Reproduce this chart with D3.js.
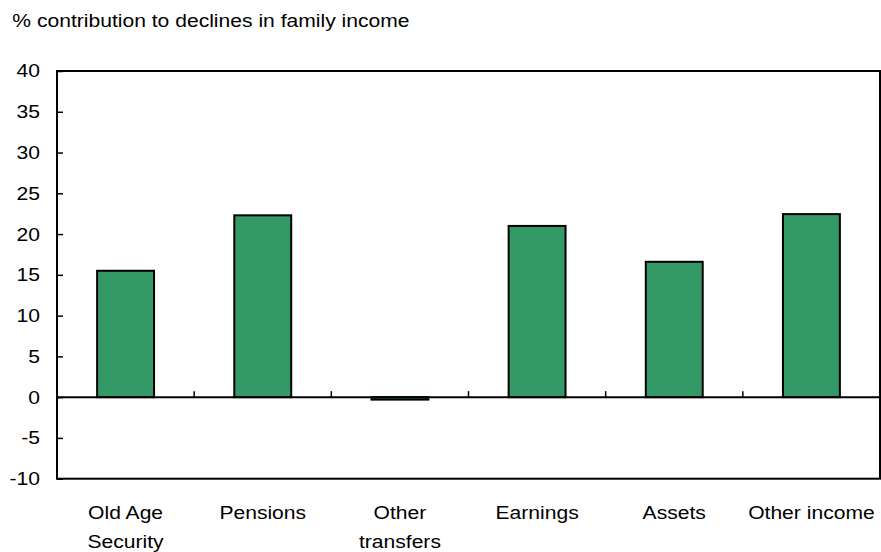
<!DOCTYPE html>
<html>
<head>
<meta charset="utf-8">
<script src="https://cdn.jsdelivr.net/npm/d3@7"></script>
<style>
  html, body { margin: 0; padding: 0; background: #fff; }
  svg { display: block; }
  text { font-family: "Liberation Sans", Arial, sans-serif; fill: #000; }
</style>
</head>
<body>
<svg id="chart" width="881" height="552"></svg>
<script>
// Contribution of each income source to declines in family income (%)
const categories = [
  ["Old Age", "Security"],
  ["Pensions"],
  ["Other", "transfers"],
  ["Earnings"],
  ["Assets"],
  ["Other income"]
];
const values = [15.5, 22.3, -0.3, 21.0, 16.6, 22.45];
const yTicks = [-10, -5, 0, 5, 10, 15, 20, 25, 30, 35, 40];
const yDomain = [-10, 40];
const titleText = "% contribution to declines in family income";

const fontSize = 18.5;
const stretch = 1.14;   // horizontal widening of all lettering

const svg = d3.select("#chart");
const plot = { left: 57, top: 71, right: 880, bottom: 478.7 };

const keys = categories.map((c, i) => i);
const x = d3.scaleBand()
  .domain(keys)
  .range([plot.left, plot.right])
  .paddingInner(0.585)
  .paddingOuter(0.2925);

const y = d3.scaleLinear().domain(yDomain).range([plot.bottom, plot.top]);

// Title
svg.append("text")
  .attr("transform", `translate(12.3,26.7) scale(${stretch},1)`)
  .style("font-size", fontSize + "px")
  .text(titleText);

// Bars
svg.append("g").selectAll("rect")
  .data(values)
  .join("rect")
  .attr("x", (d, i) => x(i))
  .attr("width", x.bandwidth())
  .attr("y", d => y(Math.max(0, d)))
  .attr("height", d => Math.abs(y(d) - y(0)))
  .attr("fill", "#339966")
  .attr("stroke", "#000")
  .attr("stroke-width", 2);

// Zero line
svg.append("line")
  .attr("x1", plot.left).attr("x2", plot.right)
  .attr("y1", y(0)).attr("y2", y(0))
  .attr("stroke", "#000").attr("stroke-width", 2);

// Category separators on the zero line
const step = x.step();
const seps = keys.slice(0, -1).map(i => x(i) + x.bandwidth() / 2 + step / 2);
svg.append("g").selectAll("line")
  .data(seps)
  .join("line")
  .attr("x1", d => d).attr("x2", d => d)
  .attr("y1", y(0)).attr("y2", y(0) - 6)
  .attr("stroke", "#000").attr("stroke-width", 1.5);

// Y axis: ticks pointing into the plot, plain hyphen for negatives
const yAxis = svg.append("g")
  .attr("transform", `translate(${plot.left},0)`)
  .call(d3.axisLeft(y).tickValues(yTicks).tickSize(-6).tickPadding(17).tickFormat(d => String(d)));
yAxis.select(".domain").remove();
yAxis.selectAll(".tick line").attr("stroke", "#000").attr("stroke-width", 1.5);
yAxis.selectAll(".tick text")
  .attr("x", null)
  .attr("transform", `translate(-17,0) scale(${stretch},1)`)
  .attr("fill", "#000")
  .style("font-size", fontSize + "px")
  .style("font-family", "'Liberation Sans', Arial, sans-serif");

// Plot frame
svg.append("rect")
  .attr("x", plot.left).attr("y", plot.top)
  .attr("width", plot.right - plot.left)
  .attr("height", plot.bottom - plot.top)
  .attr("fill", "none")
  .attr("stroke", "#000").attr("stroke-width", 2);

// Category labels
const lineBase = [518.5, 547.5];
const labels = svg.append("g");
categories.forEach((lines, i) => {
  const cx = x(i) + x.bandwidth() / 2;
  lines.forEach((t, j) => {
    labels.append("text")
      .attr("transform", `translate(${cx},${lineBase[j]}) scale(${stretch},1)`)
      .attr("text-anchor", "middle")
      .style("font-size", fontSize + "px")
      .text(t);
  });
});
</script>
</body>
</html>
